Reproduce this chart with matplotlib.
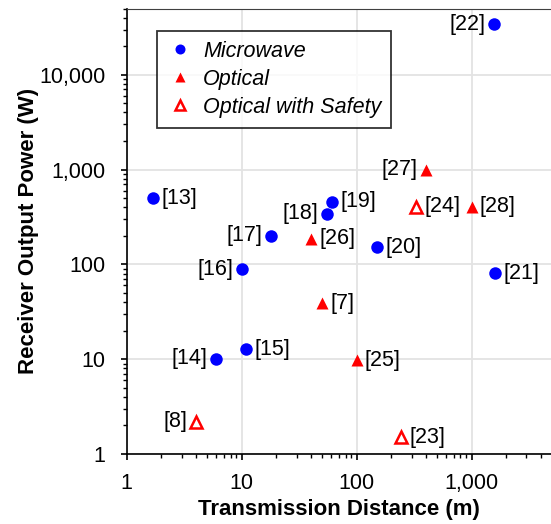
import matplotlib
matplotlib.use("Agg")
from matplotlib import pyplot as plt
from matplotlib.ticker import FuncFormatter, LogLocator, NullFormatter

plt.rcParams["font.family"] = ["Liberation Sans", "DejaVu Sans"]

# values (distance in m, power in W)
mw_refs = ["[13]", "[14]", "[15]", "[16]", "[17]", "[18]", "[19]", "[20]", "[21]", "[22]"]
mw_dist = [1.7, 6, 11, 10, 18, 55, 61, 150, 1600, 1560]
mw_power = [500, 10.1, 12.7, 89, 200, 340, 455, 152, 81, 34000]
mw_side = ["r", "l", "r", "l", "l", "l", "r", "r", "r", "l"]

opt_refs = ["[7]", "[25]", "[26]", "[27]", "[28]"]
opt_dist = [50, 100, 40, 400, 1000]
opt_power = [39, 9.7, 187, 1000, 404]
opt_side = ["r", "r", "r", "l", "r"]

safe_refs = ["[8]", "[23]", "[24]"]
safe_dist = [4, 243, 330]
safe_power = [2.2, 1.5, 404]
safe_side = ["l", "r", "r"]

fig = plt.figure(figsize=(5.51, 5.24), dpi=100)
ax = fig.add_axes([126.7 / 551, 1 - 454 / 524, 425.3 / 551, 445.5 / 524])

ax.plot(mw_dist, mw_power, "o", color="#0000ff", ms=9, mec="none", label="Microwave")
ax.plot(opt_dist, opt_power, "^", color="#ff0000", ms=9, mec="none", label="Optical")
ax.plot(safe_dist, safe_power, "^", mfc="white", mec="#ff0000", mew=1.8, ms=8.5,
        label="Optical with Safety")


def label_points(refs, xs, ys, sides):
    for r, x, y, s in zip(refs, xs, ys, sides):
        dx = 6 if s == "r" else -6
        ax.annotate(r, (x, y), xytext=(dx, 0), textcoords="offset points",
                    ha="left" if s == "r" else "right", va="center", fontsize=15.5)


label_points(mw_refs, mw_dist, mw_power, mw_side)
label_points(opt_refs, opt_dist, opt_power, opt_side)
label_points(safe_refs, safe_dist, safe_power, safe_side)

ax.set_xscale("log")
ax.set_yscale("log")
ax.set_xlim(1, 5000)
ax.set_ylim(1, 50000)

fmt = FuncFormatter(lambda v, p: "{:,.0f}".format(v))
for axis in (ax.xaxis, ax.yaxis):
    axis.set_major_locator(LogLocator(base=10))
    axis.set_minor_locator(LogLocator(base=10, subs=range(2, 10)))
    axis.set_major_formatter(fmt)
    axis.set_minor_formatter(NullFormatter())

ax.tick_params(which="major", direction="out", length=4.5, width=1.2, labelsize=15.5,
               colors="black")
ax.tick_params(axis="x", which="major", pad=9)
ax.tick_params(axis="y", which="major", pad=11)
ax.tick_params(which="minor", direction="out", length=3, width=1)
ax.grid(True, which="major", color="#e3e3e3", lw=1.3)
ax.set_axisbelow(True)

ax.spines["right"].set_visible(False)
ax.spines["top"].set_color("#404040")
ax.spines["left"].set_linewidth(1.2)
ax.spines["bottom"].set_linewidth(1.2)

ax.set_xlabel("Transmission Distance (m)", fontsize=16, fontweight="bold", labelpad=4)
ax.set_ylabel("Receiver Output Power (W)", fontsize=16, fontweight="bold", labelpad=0)

leg = ax.legend(loc="upper left", bbox_to_anchor=(157 / 551, 1 - 31 / 524),
                bbox_transform=fig.transFigure, prop={"style": "italic", "size": 15.5},
                frameon=True, fancybox=False, edgecolor="black", handletextpad=0.5,
                borderpad=0.45, labelspacing=0.33, handlelength=1.2, markerscale=0.8,
                borderaxespad=0)
leg.get_frame().set_linewidth(1.3)

fig.savefig("out.png", dpi=100)
plt.close(fig)
